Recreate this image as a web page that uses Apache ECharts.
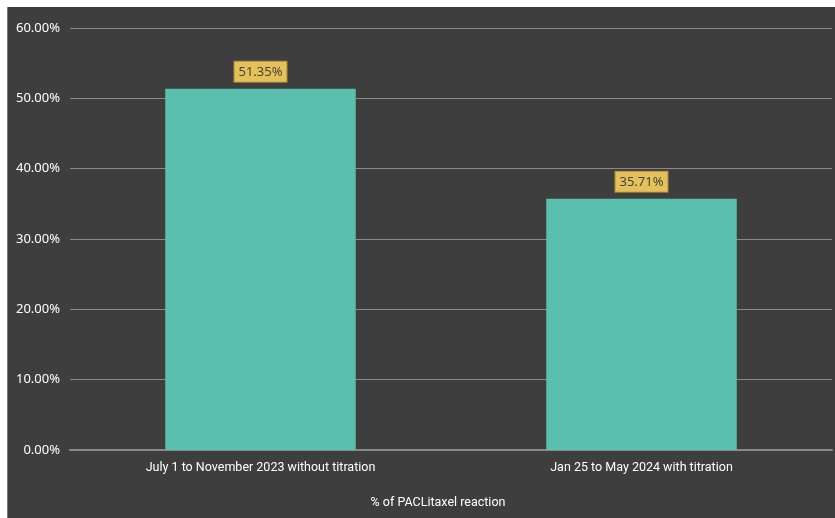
<!DOCTYPE html>
<html>
<head>
<meta charset="utf-8">
<script src="https://cdn.jsdelivr.net/npm/echarts@6/dist/echarts.min.js"></script>
<style>
  html, body { margin: 0; padding: 0; background: #fff; }
  #wrap { position: absolute; left: 7px; top: 7px; width: 828px; height: 511px; background: #3e3e3e; border-left: 1px solid #777; box-sizing: border-box; }
  #chart { width: 100%; height: 100%; }
</style>
</head>
<body>
<div id="wrap"><div id="chart"></div></div>
<script>
const categories = ['July 1 to November 2023 without titration', 'Jan 25 to May 2024 with titration']
const values = [51.35, 35.71]
const yTicks = [0, 10, 20, 30, 40, 50, 60]
const axisName = '% of PACLitaxel reaction'

let myChart = echarts.init(document.getElementById('chart'))
myChart.setOption({
  animation: false,
  grid: { left: 62, right: 3, top: 21, bottom: 68 },
  xAxis: {
    type: 'category',
    data: categories,
    name: axisName,
    nameLocation: 'middle',
    nameGap: 46,
    nameTextStyle: { color: '#fff', fontSize: 12.5, fontFamily: 'Roboto, sans-serif', padding: [0, 26, 0, 0] },
    axisLine: { lineStyle: { color: '#8a8a8a', width: 2 } },
    axisTick: { show: false },
    axisLabel: { color: '#fff', fontSize: 12.5, margin: 11, fontFamily: 'Roboto, sans-serif' }
  },
  yAxis: {
    type: 'value',
    min: yTicks[0],
    max: yTicks[yTicks.length - 1],
    interval: 10,
    axisLine: { show: false },
    axisTick: { show: false },
    splitLine: { lineStyle: { color: '#8a8a8a', width: 1 } },
    axisLabel: {
      color: '#fff', fontSize: 13, margin: 10,
      fontFamily: 'Noto Sans, sans-serif',
      formatter: v => v.toFixed(2) + '%'
    }
  },
  series: [{
    type: 'bar',
    data: values,
    barWidth: '50%',
    itemStyle: { color: '#5bbfae' },
    label: {
      show: true,
      position: 'top',
      distance: 7,
      formatter: p => p.value.toFixed(2) + '%',
      color: '#444',
      fontSize: 13,
      fontFamily: 'Noto Sans, sans-serif',
      backgroundColor: '#e5c15a',
      borderColor: '#a8893a',
      borderWidth: 1,
      padding: [4, 4, 3, 4]
    }
  }]
})
</script>
</body>
</html>
